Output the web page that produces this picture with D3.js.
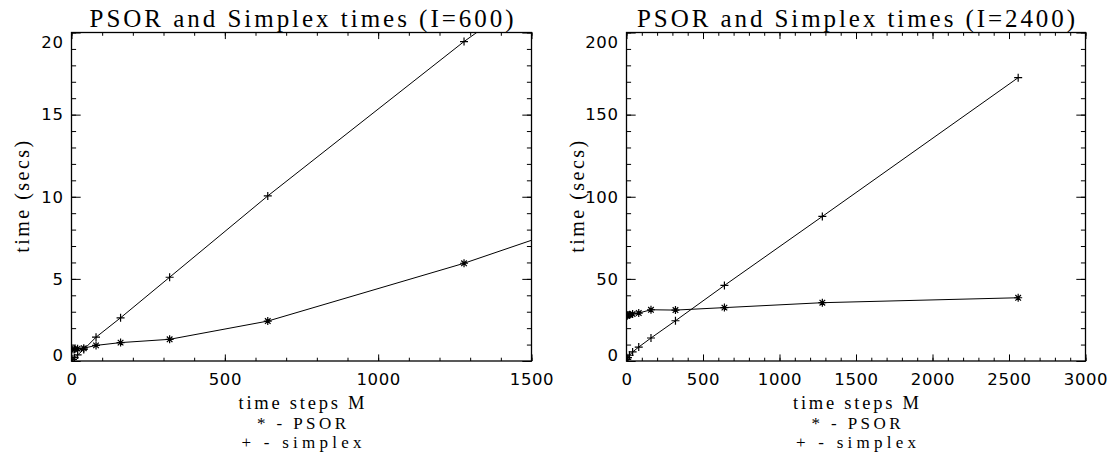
<!DOCTYPE html>
<html>
<head>
<meta charset="utf-8">
<script src="https://cdn.jsdelivr.net/npm/d3@7/dist/d3.min.js"></script>
<style>
    body { margin: 0; background: #fff; }
</style>
</head>
<body>
<svg id="chart"></svg>
<script>
// time steps M, same for both runs
const steps = [5, 10, 20, 40, 80, 160, 320, 640, 1280, 2560]
// run with I=600 (secs)
const psor600 = [0.7, 0.72, 0.75, 0.78, 0.95, 1.12, 1.32, 2.43, 5.95, 14.1]
const simplex600 = [0.1, 0.2, 0.37, 0.7, 1.45, 2.63, 5.1, 10.05, 19.45, 36.5]
// run with I=2400 (secs)
const psor2400 = [27.5, 28, 28.2, 28.6, 29.2, 31.2, 31, 32.5, 35.5, 38.5]
const simplex2400 = [1, 2, 3.5, 5.5, 8.5, 14, 24.5, 46, 88, 172.5]
// major tick labels
const xTicks600 = [0, 500, 1000, 1500]
const yTicks600 = [0, 5, 10, 15, 20]
const xTicks2400 = [0, 500, 1000, 1500, 2000, 2500, 3000]
const yTicks2400 = [0, 50, 100, 150, 200]
// text
const titles = ['PSOR and Simplex times (I=600)', 'PSOR and Simplex times (I=2400)']
const xTitle = 'time steps M'
const yTitle = 'time (secs)'
const legendLines = ['* - PSOR', '+ - simplex']

const serif = '"Liberation Serif", "Times New Roman", serif'
const sans = '"DejaVu Sans", sans-serif'

const svg = d3.select('#chart')
    .attr('width', 1117)
    .attr('height', 458)

// asterisk (psym 2) and plus (psym 1) symbols
const asterisk = r => `M0,${-r}V${r}M${-r},0H${r}M${-r * .7},${-r * .7}L${r * .7},${r * .7}M${-r * .7},${r * .7}L${r * .7},${-r * .7}`
const plus = r => `M0,${-r}V${r}M${-r},0H${r}`

const drawPanel = (panel) => {
    const {left, top, width, height} = panel
    const g = svg.append('g')
        .attr('transform', `translate(${left}, ${top})`)

    const xScale = d3.scaleLinear()
        .domain(d3.extent(panel.xTicks))
        .range([0, width])
    const yScale = d3.scaleLinear()
        .domain(d3.extent(panel.yTicks))
        .range([height, 0])

    // tick lengths: major = 2% of the plot, minor = half of it
    const xLen = height * 0.02
    const yLen = width * 0.02
    const xMinor = d3.range(xScale.domain()[0], xScale.domain()[1] + 1e-9, panel.xMinorStep)
    const yMinor = d3.range(yScale.domain()[0], yScale.domain()[1] + 1e-9, panel.yMinorStep)

    const axes = g.append('g').attr('class', 'axes')
    // minor ticks on all four sides
    axes.append('g').attr('transform', `translate(0, ${height})`)
        .call(d3.axisBottom(xScale).tickValues(xMinor).tickSize(-xLen / 2).tickFormat(''))
    axes.append('g')
        .call(d3.axisTop(xScale).tickValues(xMinor).tickSize(-xLen / 2).tickFormat(''))
    axes.append('g')
        .call(d3.axisLeft(yScale).tickValues(yMinor).tickSize(-yLen / 2).tickFormat(''))
    axes.append('g').attr('transform', `translate(${width}, 0)`)
        .call(d3.axisRight(yScale).tickValues(yMinor).tickSize(-yLen / 2).tickFormat(''))
    // major ticks, labelled on bottom and left
    axes.append('g').attr('class', 'x labels').attr('transform', `translate(0, ${height})`)
        .call(d3.axisBottom(xScale).tickValues(panel.xTicks).tickSize(-xLen).tickPadding(12.5).tickFormat(d3.format('d')))
    axes.append('g')
        .call(d3.axisTop(xScale).tickValues(panel.xTicks).tickSize(-xLen).tickFormat(''))
    const yMax = yScale.domain()[1]
    const yMin = yScale.domain()[0]
    axes.append('g').attr('class', 'y labels')
        .call(d3.axisLeft(yScale).tickValues(panel.yTicks).tickSize(-yLen).tickPadding(8).tickFormat(d3.format('d')))
        .selectAll('text')
        // end labels are pulled inside the frame
        .attr('transform', d => d === yMax ? 'translate(0, 10)' : d === yMin ? 'translate(0, -6)' : null)
    axes.append('g').attr('transform', `translate(${width}, 0)`)
        .call(d3.axisRight(yScale).tickValues(panel.yTicks).tickSize(-yLen).tickFormat(''))

    axes.selectAll('.domain').remove()
    axes.selectAll('.tick line').attr('stroke', '#000').attr('stroke-width', 1)
    axes.selectAll('.labels')
        .attr('font-family', null)
        .attr('font-size', null)
    axes.selectAll('.labels text')
        .attr('fill', '#000')
        .style('font-family', sans)
        .style('font-size', '16.5px')
        .style('letter-spacing', '0.6px')

    // frame
    g.append('rect')
        .attr('width', width)
        .attr('height', height)
        .attr('fill', 'none')
        .attr('stroke', '#000')
        .attr('stroke-width', 1.3)

    // data, clipped to the frame
    g.append('clipPath').attr('id', `clip${panel.id}`)
        .append('rect').attr('width', width).attr('height', height)
    const plot = g.append('g').attr('clip-path', `url(#clip${panel.id})`)

    const line = d3.line()
        .x(d => xScale(d[0]))
        .y(d => yScale(d[1]))

    panel.series.forEach(s => {
        const pts = steps.map((m, i) => [m, s.values[i]])
        plot.append('path')
            .attr('d', line(pts))
            .attr('fill', 'none')
            .attr('stroke', '#000')
            .attr('stroke-width', 1)
        plot.selectAll(null)
            .data(pts)
            .enter().append('path')
            .attr('transform', d => `translate(${xScale(d[0])}, ${yScale(d[1])})`)
            .attr('d', s.symbol(4))
            .attr('fill', 'none')
            .attr('stroke', '#000')
            .attr('stroke-width', 1.2)
    })

    // title and axis titles
    g.append('text')
        .attr('x', width / 2)
        .attr('y', -6)
        .attr('text-anchor', 'middle')
        .attr('textLength', panel.titleLength)
        .attr('lengthAdjust', 'spacing')
        .style('font-family', serif)
        .style('font-size', '25px')
        .text(panel.title)

    g.append('text')
        .attr('x', width / 2)
        .attr('y', 409 - top)
        .attr('text-anchor', 'middle')
        .attr('textLength', 126)
        .attr('lengthAdjust', 'spacing')
        .style('font-family', serif)
        .style('font-size', '18.5px')
        .text(xTitle)

    g.append('text')
        .attr('transform', `translate(-43, ${height / 2}) rotate(-90)`)
        .attr('text-anchor', 'middle')
        .attr('textLength', 112)
        .attr('lengthAdjust', 'spacing')
        .style('font-family', serif)
        .style('font-size', '20px')
        .text(yTitle)

    // symbol legend under the x title
    const legendY = [429, 448]
    const legendLen = [89, 120]
    legendLines.forEach((t, i) => {
        g.append('text')
            .attr('x', width / 2)
            .attr('y', legendY[i] - top)
            .attr('text-anchor', 'middle')
            .attr('textLength', legendLen[i])
            .attr('lengthAdjust', 'spacing')
            .style('font-family', serif)
            .style('font-size', '17px')
            .text(t)
    })
}

drawPanel({
    id: 600, left: 71.5, top: 32.5, width: 460, height: 328.5,
    xTicks: xTicks600, yTicks: yTicks600, xMinorStep: 100, yMinorStep: 1,
    title: titles[0], titleLength: 424,
    series: [
        {values: psor600, symbol: asterisk},
        {values: simplex600, symbol: plus}
    ]
})

drawPanel({
    id: 2400, left: 626.5, top: 32.5, width: 459, height: 328.5,
    xTicks: xTicks2400, yTicks: yTicks2400, xMinorStep: 100, yMinorStep: 10,
    title: titles[1], titleLength: 438,
    series: [
        {values: psor2400, symbol: asterisk},
        {values: simplex2400, symbol: plus}
    ]
})
</script>
</body>
</html>
